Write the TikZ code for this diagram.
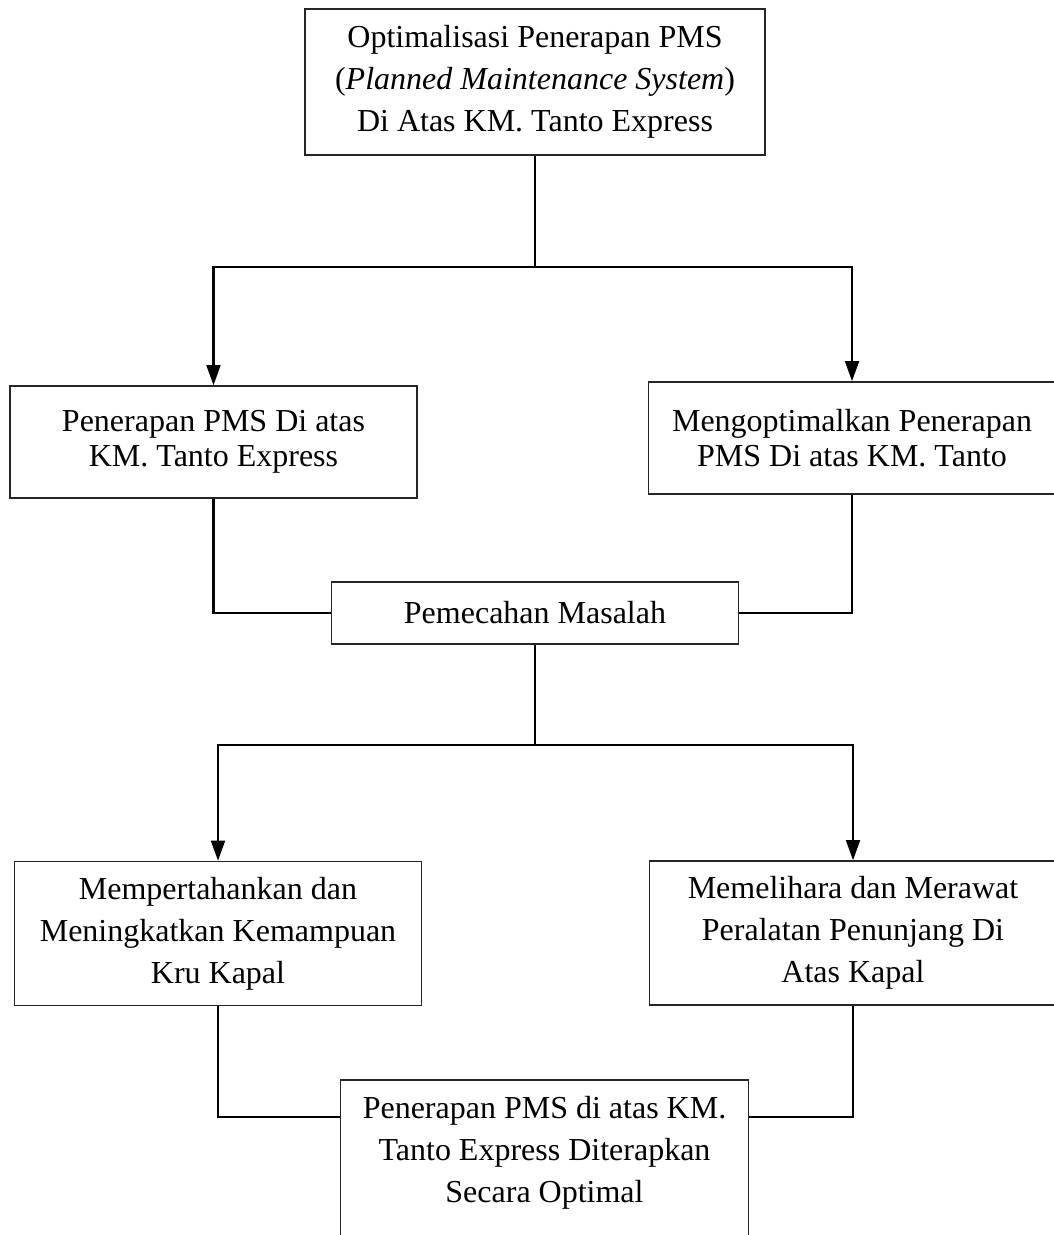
\documentclass[tikz,border=0pt]{standalone}
\usepackage{fontspec}
\setmainfont{Liberation Serif}
\usepackage{tikz}
\usetikzlibrary{arrows.meta, calc}

\begin{document}
\begin{tikzpicture}[
    x=0.375pt, y=-0.375pt,
    every node/.style={font=\fontsize{12}{15.8}\selectfont},
    blk/.style={draw=black!85, line width=0.6pt, align=center, inner sep=0pt,
                minimum width=152.5pt, minimum height=54pt},
    lowblk/.style={blk, minimum height=42pt, font=\fontsize{12}{13.1}\selectfont},
    line/.style={draw=black, line width=0.8pt},
    arrow/.style={line, -{Triangle[length=7.5pt, width=5.2pt]}}
]
\useasboundingbox (0,0) rectangle (1053,1235);

% -------- Title --------
\node[blk, minimum width=172.5pt, minimum height=54.75pt] (judul) at (535,82)
  {Optimalisasi Penerapan PMS\\(\textit{Planned Maintenance System})\\Di Atas KM. Tanto Express};

% -------- Row 1 --------
\node[lowblk] (penerapan) at (213.5,442) {Penerapan PMS Di atas\\KM. Tanto Express};
\node[lowblk] (optimal)   at (852,438)   {Mengoptimalkan Penerapan\\PMS Di atas KM. Tanto};

% -------- Middle --------
\node[blk, minimum height=23.25pt] (masalah) at (535,613) {Pemecahan Masalah};

% -------- Row 2 --------
\node[blk] (kru)    at (218,933.5) {Mempertahankan dan\\Meningkatkan Kemampuan\\Kru Kapal};
\node[blk] (alat)   at (853,933)   {Memelihara dan Merawat\\Peralatan Penunjang Di\\Atas Kapal};

% -------- Result (cut off at the bottom) --------
\node[blk, draw=none] (hasil) at (544.5,1153)
  {Penerapan PMS di atas KM.\\Tanto Express Diterapkan\\Secara Optimal};
\coordinate (cut) at (0,1235);
\draw[draw=black!85, line width=0.6pt] (hasil.north west |- cut) -- (hasil.north west)
  -- (hasil.north east) -- (hasil.north east |- cut);

% -------- Branch points --------
\coordinate (cabang1) at (535,267);
\coordinate (cabang2) at (535,745);

% -------- Flow --------
\draw[line] (judul.south) -- (cabang1);
\draw[arrow] (cabang1) -| (penerapan.north);
\draw[arrow] (cabang1) -| (optimal.north);

\draw[line] (penerapan.south) |- (masalah.west);
\draw[line] (optimal.south) |- (masalah.east);

\draw[line] (masalah.south) -- (cabang2);
\draw[arrow] (cabang2) -| (kru.north);
\draw[arrow] (cabang2) -| (alat.north);

\draw[line] (kru.south) |- ($(hasil.north west)!.5!(hasil.west)$);
\draw[line] (alat.south) |- ($(hasil.north east)!.5!(hasil.east)$);

\end{tikzpicture}
\end{document}
